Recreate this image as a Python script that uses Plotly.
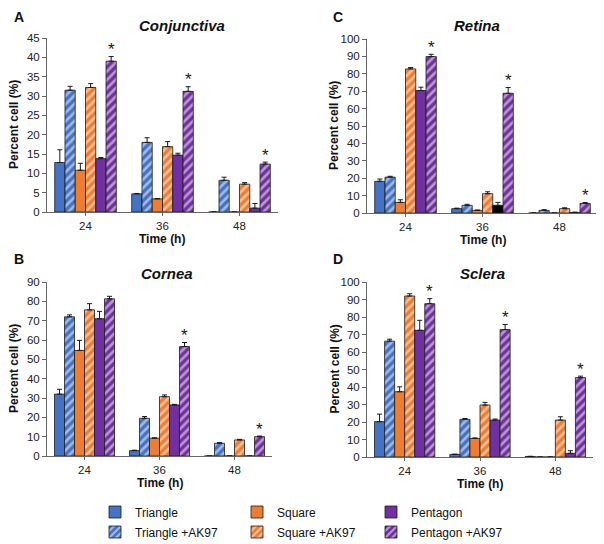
import plotly.graph_objects as go
from plotly.subplots import make_subplots

times = ["24", "36", "48"]
series = ["Triangle", "Triangle +AK97", "Square", "Square +AK97", "Pentagon", "Pentagon +AK97"]
colors = ["#4472C4", "#4472C4", "#ED7D31", "#ED7D31", "#7030A0", "#7030A0"]
striped = [False, True, False, True, False, True]

# Panel A - Conjunctiva
conj_vals = [[12.8, 4.7, 0], [31.5, 18.0, 8.2], [10.8, 3.4, 0], [32.2, 16.9, 7.2], [13.8, 14.7, 1.0], [39.0, 31.2, 12.4]]
conj_errs = [[3.3, 0.1, 0], [1.0, 1.2, 0.8], [1.8, 0.1, 0], [1.0, 1.3, 0.4], [0.3, 0.5, 1.2], [1.2, 1.2, 0.5]]
conj_star = [True, True, True]

# Panel C - Retina
ret_vals = [[18.2, 2.5, 0], [20.6, 4.4, 1.5], [6.1, 1.5, 0], [82.8, 11.1, 2.5], [70.4, 4.4, 0.3], [89.9, 68.8, 5.5]]
ret_errs = [[1.3, 0.3, 0], [0.5, 0.6, 0.4], [1.5, 0.2, 0], [0.8, 1.1, 0.5], [1.9, 1.7, 0.2], [1.3, 3.3, 0.5]]
ret_star = [True, True, True]
ret_bar_colors = {4: ["#7030A0", "#000000", "#7030A0"]}

# Panel B - Cornea
cor_vals = [[32.0, 2.8, 0], [72.0, 19.5, 6.6], [54.6, 9.2, 0], [75.6, 30.7, 8.3], [71.0, 26.4, 0], [81.3, 56.6, 10.0]]
cor_errs = [[2.5, 0.2, 0], [1.0, 0.9, 0.3], [5.2, 0.2, 0], [3.2, 0.9, 0.3], [3.8, 0.3, 0], [1.3, 2.1, 0.3]]
cor_star = [False, True, True]

# Panel D - Sclera
scl_vals = [[20.2, 1.5, 0.3], [66.2, 21.5, 0], [37.3, 10.6, 0], [92.0, 29.7, 21.1], [72.4, 21.1, 2.1], [87.6, 72.8, 45.4]]
scl_errs = [[4.3, 0.1, 0.1], [1.1, 0.5, 0], [2.8, 0.3, 0], [1.3, 1.5, 1.9], [5.7, 0.6, 1.5], [2.9, 2.9, 0.8]]
scl_star = [True, True, True]

panels = [
    dict(vals=conj_vals, errs=conj_errs, stars=conj_star, title="Conjunctiva", letter="A", row=1, col=1,
         rng=45, dtick=5, bar_colors={}),
    dict(vals=ret_vals, errs=ret_errs, stars=ret_star, title="Retina", letter="C", row=1, col=2,
         rng=100, dtick=10, bar_colors=ret_bar_colors),
    dict(vals=cor_vals, errs=cor_errs, stars=cor_star, title="Cornea", letter="B", row=2, col=1,
         rng=90, dtick=10, bar_colors={}),
    dict(vals=scl_vals, errs=scl_errs, stars=scl_star, title="Sclera", letter="D", row=2, col=2,
         rng=100, dtick=10, bar_colors={}),
]

# the page body has an 8px margin, so the figure is drawn 8px in from the top-left corner
PAGE_OFF = 8
W, H = 604 - PAGE_OFF, 544 - PAGE_OFF
FONT = "Liberation Sans, Arial, sans-serif"
BARGAP = 0.2


def px(xp):
    return (xp - PAGE_OFF) / W


def py(yp):
    return (H - (yp - PAGE_OFF)) / H


# pixel layout of each plot area (window pixels): (x0, x1, ytop, ybottom)
boxes = [(47, 278, 38, 212), (367, 598, 39, 213), (47, 272, 282, 456), (367, 593, 282, 457)]
titles_pos = [(182, 25), (477, 25), (167, 273), (482, 273)]
letters_pos = [(19, 17), (338, 17), (19, 259), (338, 259)]
# legend slot (text-left x, row center y) per series
legend_slots = [(136, 512), (136, 532), (278, 512), (278, 532), (412, 512), (412, 532)]

fig = make_subplots(rows=2, cols=2)
cat_x = list(range(len(times)))

for p_i, p in enumerate(panels):
    for s_i, name in enumerate(series):
        col = p["bar_colors"].get(s_i, colors[s_i])
        marker = dict(color=col, line=dict(color="#1a1a1a", width=0.8))
        if striped[s_i]:
            marker["pattern"] = dict(shape="/", fillmode="overlay", fgcolor="white",
                                     bgcolor=colors[s_i], size=6, solidity=0.45)
        fig.add_trace(go.Bar(
            x=cat_x, y=p["vals"][s_i], name=name, marker=marker,
            error_y=dict(type="data", array=p["errs"][s_i], arrayminus=[0] * 3, symmetric=False,
                         color="#1a1a1a", thickness=1, width=2.5),
            showlegend=(p_i == 0), legend="legend" if s_i == 0 else "legend%d" % (s_i + 1),
        ), row=p["row"], col=p["col"])

    x0, x1, yt, yb = boxes[p_i]
    ax_suffix = "" if p_i == 0 else str(p_i + 1)
    xref = "x" + ax_suffix
    yref = "y" + ax_suffix
    # significance stars above the last series (Pentagon +AK97)
    n = len(series)
    off = (-0.5 + (n - 0.5) / n) * (1 - BARGAP)
    for i, flag in enumerate(p["stars"]):
        if flag:
            fig.add_annotation(x=cat_x[i] + off, y=p["vals"][-1][i] + p["errs"][-1][i], xref=xref, yref=yref,
                               text="*", showarrow=False, xanchor="center", yanchor="middle", yshift=7,
                               font=dict(size=17, family=FONT, color="#1a1a1a"))

    fig.layout["xaxis" + ax_suffix].update(
        domain=[px(x0), px(x1)], range=[-0.5, 2.5], tickvals=cat_x, ticktext=times,
        showline=True, linecolor="#666666", linewidth=1, showgrid=False, zeroline=False,
        tickfont=dict(size=11.5, family=FONT, color="#222222"), automargin=False,
    )
    fig.layout["yaxis" + ax_suffix].update(
        domain=[py(yb), py(yt)], range=[0, p["rng"]], dtick=p["dtick"],
        showline=True, linecolor="#666666", linewidth=1, ticks="outside", ticklen=4, tickcolor="#666666",
        showgrid=False, zeroline=False, tickfont=dict(size=11.5, family=FONT, color="#222222"), automargin=False,
    )
    fig.update_xaxes(row=p["row"], col=p["col"], tickson="boundaries", ticks="outside", ticklen=3,
                     tickcolor="#666666")

    common = dict(xref="paper", yref="paper", showarrow=False, xanchor="center", yanchor="middle")
    tx, ty = titles_pos[p_i]
    fig.add_annotation(x=px(tx), y=py(ty), text="<b><i>%s</i></b>" % p["title"],
                       font=dict(size=15, family=FONT, color="#111111"), **common)
    lx, ly = letters_pos[p_i]
    fig.add_annotation(x=px(lx), y=py(ly), text="<b>%s</b>" % p["letter"], borderpad=0,
                       font=dict(size=14, family=FONT, color="#111111"), **common)
    fig.add_annotation(x=px((x0 + x1) / 2), y=py(yb + 27), text="<b>Time (h)</b>",
                       font=dict(size=12, family=FONT, color="#111111"), **common)
    fig.add_annotation(x=px(x0 - 33), y=py((yt + yb) / 2), text="<b>Percent cell (%)</b>",
                       textangle=-90, font=dict(size=12, family=FONT, color="#111111"), **common)

legend_layout = {}
for s_i in range(len(series)):
    key = "legend" if s_i == 0 else "legend%d" % (s_i + 1)
    tx, ty = legend_slots[s_i]
    legend_layout[key] = dict(x=px(tx - 41), xanchor="left", y=py(ty), yanchor="middle",
                              orientation="v", bgcolor="rgba(0,0,0,0)", borderwidth=0,
                              font=dict(size=12, family=FONT, color="#111111"))

fig.update_layout(
    width=W, height=H, margin=dict(l=0, r=0, t=0, b=0, autoexpand=False),
    paper_bgcolor="white", plot_bgcolor="white",
    barmode="group", bargap=BARGAP, bargroupgap=0,
    font=dict(family=FONT),
    **legend_layout,
)

fig.write_html("out.html")
